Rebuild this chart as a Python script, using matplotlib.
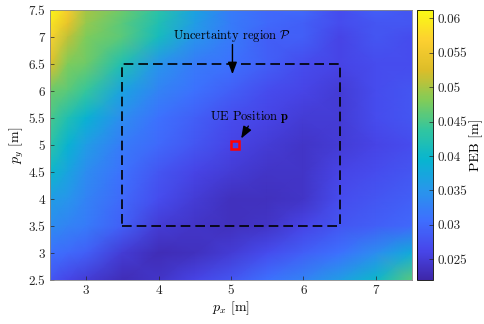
import numpy as np
import matplotlib
matplotlib.use("Agg")
import matplotlib.pyplot as plt
from matplotlib.colors import LinearSegmentedColormap

plt.rcParams['font.family'] = ['cmr10', 'DejaVu Serif']
plt.rcParams['mathtext.fontset'] = 'cm'
plt.rcParams['axes.unicode_minus'] = False
plt.rcParams['axes.formatter.use_mathtext'] = True

# grid coordinates (m)
px_vals = [2.5, 2.75, 3.0, 3.5, 4.0, 4.5, 5.0, 5.5, 6.0, 6.5, 7.0, 7.5]
py_vals = [7.5, 7.25, 7.0, 6.5, 6.0, 5.5, 5.0, 4.5, 4.0, 3.5, 3.0, 2.5]

# PEB [m], rows follow py_vals (top to bottom), columns follow px_vals
peb_y75 = [0.061, 0.056, 0.050, 0.047, 0.043, 0.037, 0.032, 0.030, 0.030, 0.027, 0.029, 0.028]
peb_y725 = [0.059, 0.054, 0.049, 0.046, 0.042, 0.036, 0.032, 0.030, 0.029, 0.027, 0.028, 0.028]
peb_y70 = [0.057, 0.051, 0.048, 0.046, 0.041, 0.035, 0.032, 0.029, 0.029, 0.026, 0.028, 0.027]
peb_y65 = [0.053, 0.048, 0.047, 0.042, 0.035, 0.032, 0.031, 0.029, 0.027, 0.026, 0.027, 0.027]
peb_y60 = [0.047, 0.046, 0.044, 0.037, 0.033, 0.031, 0.029, 0.027, 0.026, 0.025, 0.027, 0.028]
peb_y55 = [0.045, 0.042, 0.039, 0.034, 0.031, 0.029, 0.027, 0.026, 0.025, 0.025, 0.027, 0.028]
peb_y50 = [0.043, 0.039, 0.036, 0.032, 0.030, 0.028, 0.026, 0.025, 0.024, 0.025, 0.026, 0.027]
peb_y45 = [0.040, 0.037, 0.034, 0.031, 0.028, 0.026, 0.025, 0.024, 0.024, 0.026, 0.027, 0.028]
peb_y40 = [0.036, 0.035, 0.033, 0.030, 0.027, 0.025, 0.0235, 0.0235, 0.024, 0.027, 0.028, 0.029]
peb_y35 = [0.034, 0.033, 0.032, 0.029, 0.025, 0.024, 0.0235, 0.024, 0.026, 0.028, 0.029, 0.030]
peb_y30 = [0.031, 0.030, 0.029, 0.025, 0.023, 0.0235, 0.025, 0.027, 0.029, 0.031, 0.034, 0.038]
peb_y25 = [0.028, 0.026, 0.025, 0.023, 0.024, 0.026, 0.028, 0.031, 0.033, 0.036, 0.040, 0.046]

peb_rows = [peb_y75, peb_y725, peb_y70, peb_y65, peb_y60, peb_y55, peb_y50,
            peb_y45, peb_y40, peb_y35, peb_y30, peb_y25]

# annotations
region_x = [3.5, 6.5]
region_y = [3.5, 6.5]
ue_pos = [5.05, 5.0]

x_ticks = [3, 4, 5, 6, 7]
y_ticks = [2.5, 3, 3.5, 4, 4.5, 5, 5.5, 6, 6.5, 7, 7.5]
cb_ticks = [0.025, 0.03, 0.035, 0.04, 0.045, 0.05, 0.055, 0.06]
clim = [0.0220, 0.0612]

# MATLAB parula anchors
parula_anchors = [
    (0.2422, 0.1504, 0.6603), (0.2803, 0.2782, 0.9221), (0.2440, 0.4358, 0.9988),
    (0.1540, 0.5902, 0.9218), (0.0297, 0.7082, 0.8163), (0.1938, 0.7758, 0.6251),
    (0.5044, 0.7993, 0.3480), (0.8634, 0.7406, 0.1596), (0.9892, 0.8136, 0.1885),
    (0.9769, 0.9839, 0.0805)]
parula = LinearSegmentedColormap.from_list('parula', parula_anchors, N=256)

fig = plt.figure(figsize=(4.84, 3.24), dpi=100)
ax = fig.add_axes([50/484, 44/324, 362/484, 270/324])
cax = fig.add_axes([417/484, 44/324, 16/484, 270/324])

X, Y = np.meshgrid(px_vals, py_vals)
Z = np.array(peb_rows)
mesh = ax.pcolormesh(X, Y, Z, shading='gouraud', cmap=parula,
                     vmin=clim[0], vmax=clim[1], rasterized=True)

# uncertainty region
rx = [region_x[0], region_x[1], region_x[1], region_x[0], region_x[0]]
ry = [region_y[0], region_y[0], region_y[1], region_y[1], region_y[0]]
ax.plot(rx, ry, color='black', lw=1.2, dashes=(5.8, 3.0))

# UE position
ax.plot(ue_pos[0], ue_pos[1], marker='s', ms=6.2, mfc='none', mec='red', mew=1.8)

arrow_kw = dict(arrowstyle='-|>,head_length=0.45,head_width=0.17', color='black',
                lw=1.0, mutation_scale=16, shrinkA=0, shrinkB=0)
ax.text(5.02, 7.02, r'Uncertainty region $\mathcal{P}$', ha='center', va='center',
        fontsize=9)
ax.annotate('', xy=(5.02, 6.31), xytext=(5.02, 6.86), arrowprops=arrow_kw)
ax.text(5.26, 5.52, r'UE Position $\mathbf{p}$', ha='center', va='center', fontsize=9)
ax.annotate('', xy=(5.14, 5.12), xytext=(5.24, 5.35), arrowprops=arrow_kw)

ax.set_xlim(2.5, 7.5)
ax.set_ylim(2.5, 7.5)
ax.set_xticks(x_ticks)
ax.set_yticks(y_ticks)
ax.set_xticklabels([f'{t:g}' for t in x_ticks])
ax.set_yticklabels([f'{t:g}' for t in y_ticks])
ax.tick_params(direction='in', length=3, width=0.5, labelsize=9.5, colors='#262626',
               top=False, right=False)
for s in ax.spines.values():
    s.set_color('#888888')
    s.set_linewidth(0.6)
ax.set_xlabel(r'$p_x$ [m]', fontsize=10, labelpad=2)
ax.set_ylabel(r'$p_y$ [m]', fontsize=10, labelpad=2)

cb = fig.colorbar(mesh, cax=cax, ticks=cb_ticks)
cb.ax.set_yticklabels([f'{t:g}' for t in cb_ticks])
cb.ax.tick_params(direction='in', length=3, width=0.5, labelsize=9.5, colors='#262626')
cb.outline.set_linewidth(0.6)
cb.set_label('PEB [m]', fontsize=10, labelpad=1)

fig.savefig('out.png', dpi=100)
